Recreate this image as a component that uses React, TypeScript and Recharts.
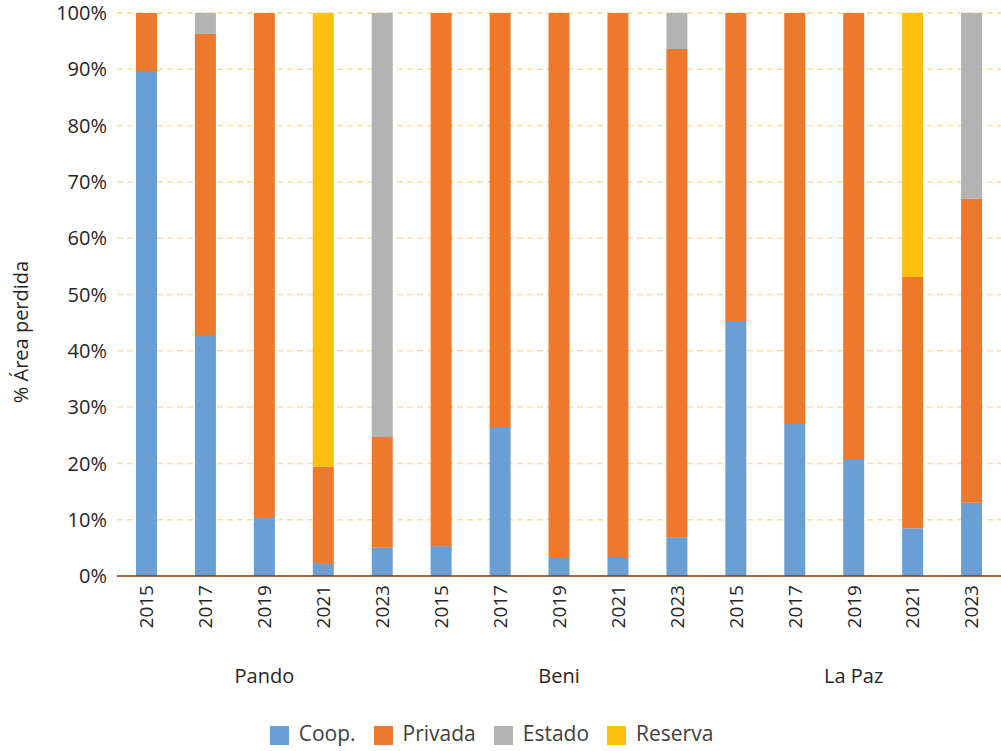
import React from 'react';
import { BarChart, Bar, XAxis, YAxis, CartesianGrid, Legend } from 'recharts';

const years = ['2015', '2017', '2019', '2021', '2023', '2015', '2017', '2019', '2021', '2023', '2015', '2017', '2019', '2021', '2023'];
const regions = ['Pando', 'Pando', 'Pando', 'Pando', 'Pando', 'Beni', 'Beni', 'Beni', 'Beni', 'Beni', 'La Paz', 'La Paz', 'La Paz', 'La Paz', 'La Paz'];

const coop = [89.7, 42.8, 10.5, 2.3, 5.0, 5.3, 26.3, 3.2, 3.2, 6.9, 45.3, 27.0, 20.6, 8.5, 13.0];
const privada = [10.3, 53.5, 89.5, 17.1, 19.7, 94.7, 73.7, 96.8, 96.8, 86.7, 54.7, 73.0, 79.4, 44.6, 54.0];
const estado = [0, 3.7, 0, 0, 75.3, 0, 0, 0, 0, 6.4, 0, 0, 0, 0, 33.0];
const reserva = [0, 0, 0, 80.6, 0, 0, 0, 0, 0, 0, 0, 0, 0, 46.9, 0];

const seriesOrder = ['Coop.', 'Privada', 'Estado', 'Reserva'];
const yTicks = [0, 10, 20, 30, 40, 50, 60, 70, 80, 90, 100];

const data = years.map((year, i) => ({
  key: `${regions[i]}-${year}`,
  year,
  region: regions[i],
  coop: coop[i],
  privada: privada[i],
  estado: estado[i],
  reserva: reserva[i],
}));

const FONT = '"Open Sans", sans-serif';
const TEXT = '#262626';

// rotated year labels under each bar
const YearTick = (props: any) => {
  const { x, y, index } = props;
  return (
    <g transform={`translate(${x},${y})`}>
      <text
        transform="rotate(-90)"
        x={-1}
        y={0}
        dy="0.36em"
        textAnchor="end"
        fill={TEXT}
        fontSize={19}
        fontFamily={FONT}
      >
        {years[index]}
      </text>
    </g>
  );
};

// region name only under the middle bar of each group
const RegionTick = (props: any) => {
  const { x, y, index } = props;
  if (index % 5 !== 2) return null;
  return (
    <text x={x} y={y + 29} textAnchor="middle" fill={TEXT} fontSize={20} fontFamily={FONT}>
      {regions[index]}
    </text>
  );
};

const YLabel = () => {
  const cx = 20;
  const cy = 332;
  return (
    <text
      x={cx}
      y={cy}
      transform={`rotate(-90 ${cx} ${cy})`}
      textAnchor="middle"
      dominantBaseline="central"
      fill={TEXT}
      fontSize={20}
      fontFamily={FONT}
    >
      % Área perdida
    </text>
  );
};

export default function App() {
  return (
    <div style={{ position: 'absolute', left: 0, top: 0, width: 1001, height: 751, background: '#fff' }}>
      <BarChart
        width={1001}
        height={751}
        data={data}
        barSize={21}
        margin={{ top: 13, right: 0, left: 0, bottom: 0 }}
      >
        <CartesianGrid vertical={false} stroke="#F3E3A5" strokeDasharray="6 4" strokeWidth={1.5} />
        <XAxis
          dataKey="key"
          interval={0}
          height={70}
          tick={<YearTick />}
          tickLine={false}
          axisLine={{ stroke: '#843C0C', strokeWidth: 1.5 }}
        />
        <XAxis
          xAxisId="region"
          dataKey="key"
          interval={0}
          height={75}
          tick={<RegionTick />}
          tickLine={false}
          axisLine={false}
        />
        <YAxis
          width={117}
          domain={[0, 100]}
          ticks={yTicks}
          tickFormatter={(v: number) => `${v}%`}
          tick={{ fill: TEXT, fontSize: 20, fontFamily: FONT }}
          tickLine={false}
          axisLine={false}
          tickMargin={4}
          label={<YLabel />}
        />
        <Legend
          verticalAlign="bottom"
          iconType="square"
          iconSize={19}
          height={30}
          itemSorter={(item: any) => seriesOrder.indexOf(item.value)}
          wrapperStyle={{ fontFamily: FONT, fontSize: 21, top: 718, lineHeight: '30px' }}
          formatter={(value: string) => (
            <span style={{ color: '#404040', marginLeft: 6, marginRight: 8 }}>{value}</span>
          )}
        />
        <Bar dataKey="coop" name="Coop." stackId="a" fill="#699FD5" isAnimationActive={false} />
        <Bar dataKey="privada" name="Privada" stackId="a" fill="#EE792C" isAnimationActive={false} />
        <Bar dataKey="estado" name="Estado" stackId="a" fill="#B3B3B3" isAnimationActive={false} />
        <Bar dataKey="reserva" name="Reserva" stackId="a" fill="#FCC10F" isAnimationActive={false} />
      </BarChart>
    </div>
  );
}
